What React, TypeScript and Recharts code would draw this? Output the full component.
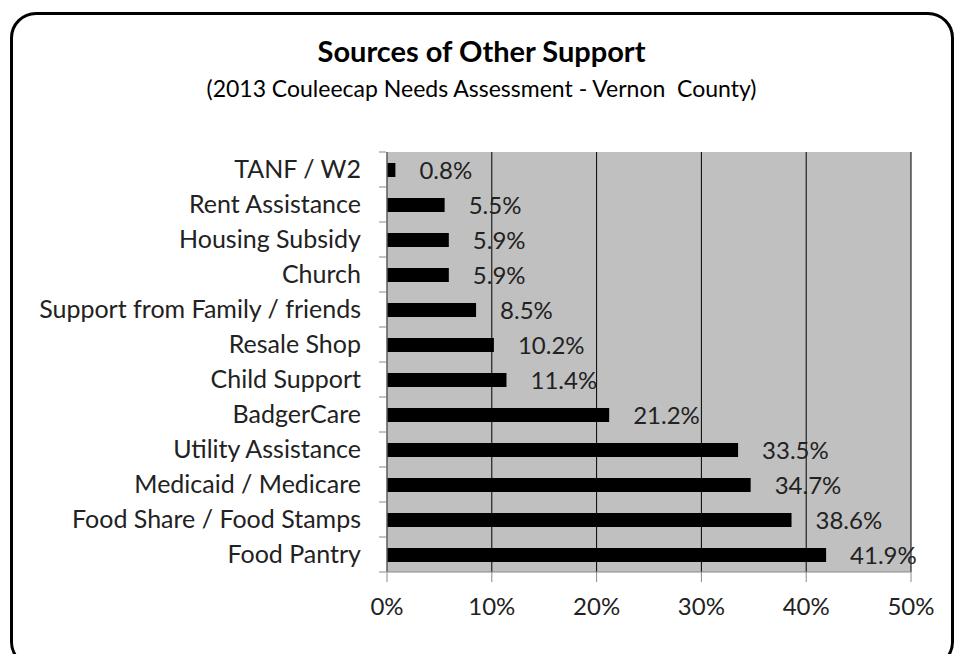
import { Bar, BarChart, CartesianGrid, LabelList, XAxis, YAxis } from "recharts";

const categories = [
  "TANF / W2",
  "Rent Assistance",
  "Housing Subsidy",
  "Church",
  "Support from Family / friends",
  "Resale Shop",
  "Child Support",
  "BadgerCare",
  "Utility Assistance",
  "Medicaid / Medicare",
  "Food Share / Food Stamps",
  "Food Pantry",
];
const shares = [0.8, 5.5, 5.9, 5.9, 8.5, 10.2, 11.4, 21.2, 33.5, 34.7, 38.6, 41.9];
const xTicks = [0, 10, 20, 30, 40, 50];

const data = categories.map((name, i) => ({ name, value: shares[i] }));

const font = "Lato, 'Open Sans', sans-serif";
const textColor = "#222";

// category labels with Excel-style tick marks between the bands
function CategoryTick(props: any) {
  const { x, y, payload, index } = props;
  const half = payload.offset ?? 17.5;
  const axisX = x + 7;
  return (
    <g>
      <line x1={axisX - 7} x2={axisX} y1={y - half} y2={y - half} stroke="#888" />
      {index === categories.length - 1 && (
        <line x1={axisX - 7} x2={axisX} y1={y + half} y2={y + half} stroke="#888" />
      )}
      <text
        x={x - 18}
        y={y}
        dy="0.35em"
        textAnchor="end"
        fill={textColor}
        fontSize={25}
        fontFamily={font}
      >
        {payload.value}
      </text>
    </g>
  );
}

export default function App() {
  return (
    <div
      style={{
        position: "fixed",
        left: 0,
        top: 0,
        width: 963,
        height: 654,
        background: "#fff",
        fontFamily: font,
        overflow: "hidden",
      }}
    >
      <div
        style={{
          position: "absolute",
          left: 10,
          top: 12,
          width: 944,
          height: 656,
          border: "3px solid #000",
          borderRadius: 26,
          boxSizing: "border-box",
        }}
      />
      <div
        style={{
          position: "absolute",
          top: 34,
          left: 0,
          width: 963,
          textAlign: "center",
          fontSize: 29,
          lineHeight: 1.2,
          fontWeight: 700,
          color: "#000",
        }}
      >
        Sources of Other Support
      </div>
      <div
        style={{
          position: "absolute",
          top: 75,
          left: 0,
          width: 963,
          textAlign: "center",
          fontSize: 23,
          lineHeight: 1.2,
          whiteSpace: "pre",
          color: "#000",
        }}
      >
        (2013 Couleecap Needs Assessment - Vernon  County)
      </div>
      <div style={{ position: "absolute", left: 0, top: 0 }}>
        <BarChart
          width={963}
          height={654}
          layout="vertical"
          data={data}
          margin={{ top: 152, right: 52, left: 11, bottom: 52 }}
          barCategoryGap={0}
        >
          <CartesianGrid
            horizontal={false}
            stroke="#000"
            fill="#c0c0c0"
            fillOpacity={1}
          />
          <XAxis
            type="number"
            domain={[0, 50]}
            ticks={xTicks}
            tickFormatter={(v) => `${v}%`}
            axisLine={{ stroke: "#888" }}
            tickLine={{ stroke: "#888" }}
            tickSize={10}
            height={30}
            tick={{ fill: textColor, fontSize: 24, fontFamily: font }}
            tickMargin={16}
          />
          <YAxis
            type="category"
            dataKey="name"
            width={376}
            axisLine={{ stroke: "#888" }}
            tickLine={false}
            tick={<CategoryTick />}
            interval={0}
          />
          <Bar dataKey="value" fill="#000" barSize={14} isAnimationActive={false}>
            <LabelList
              dataKey="value"
              position="right"
              offset={24}
              formatter={(v: number) => `${v}%`}
              style={{ fill: textColor, fontSize: 24, fontFamily: font }}
            />
          </Bar>
        </BarChart>
      </div>
    </div>
  );
}
